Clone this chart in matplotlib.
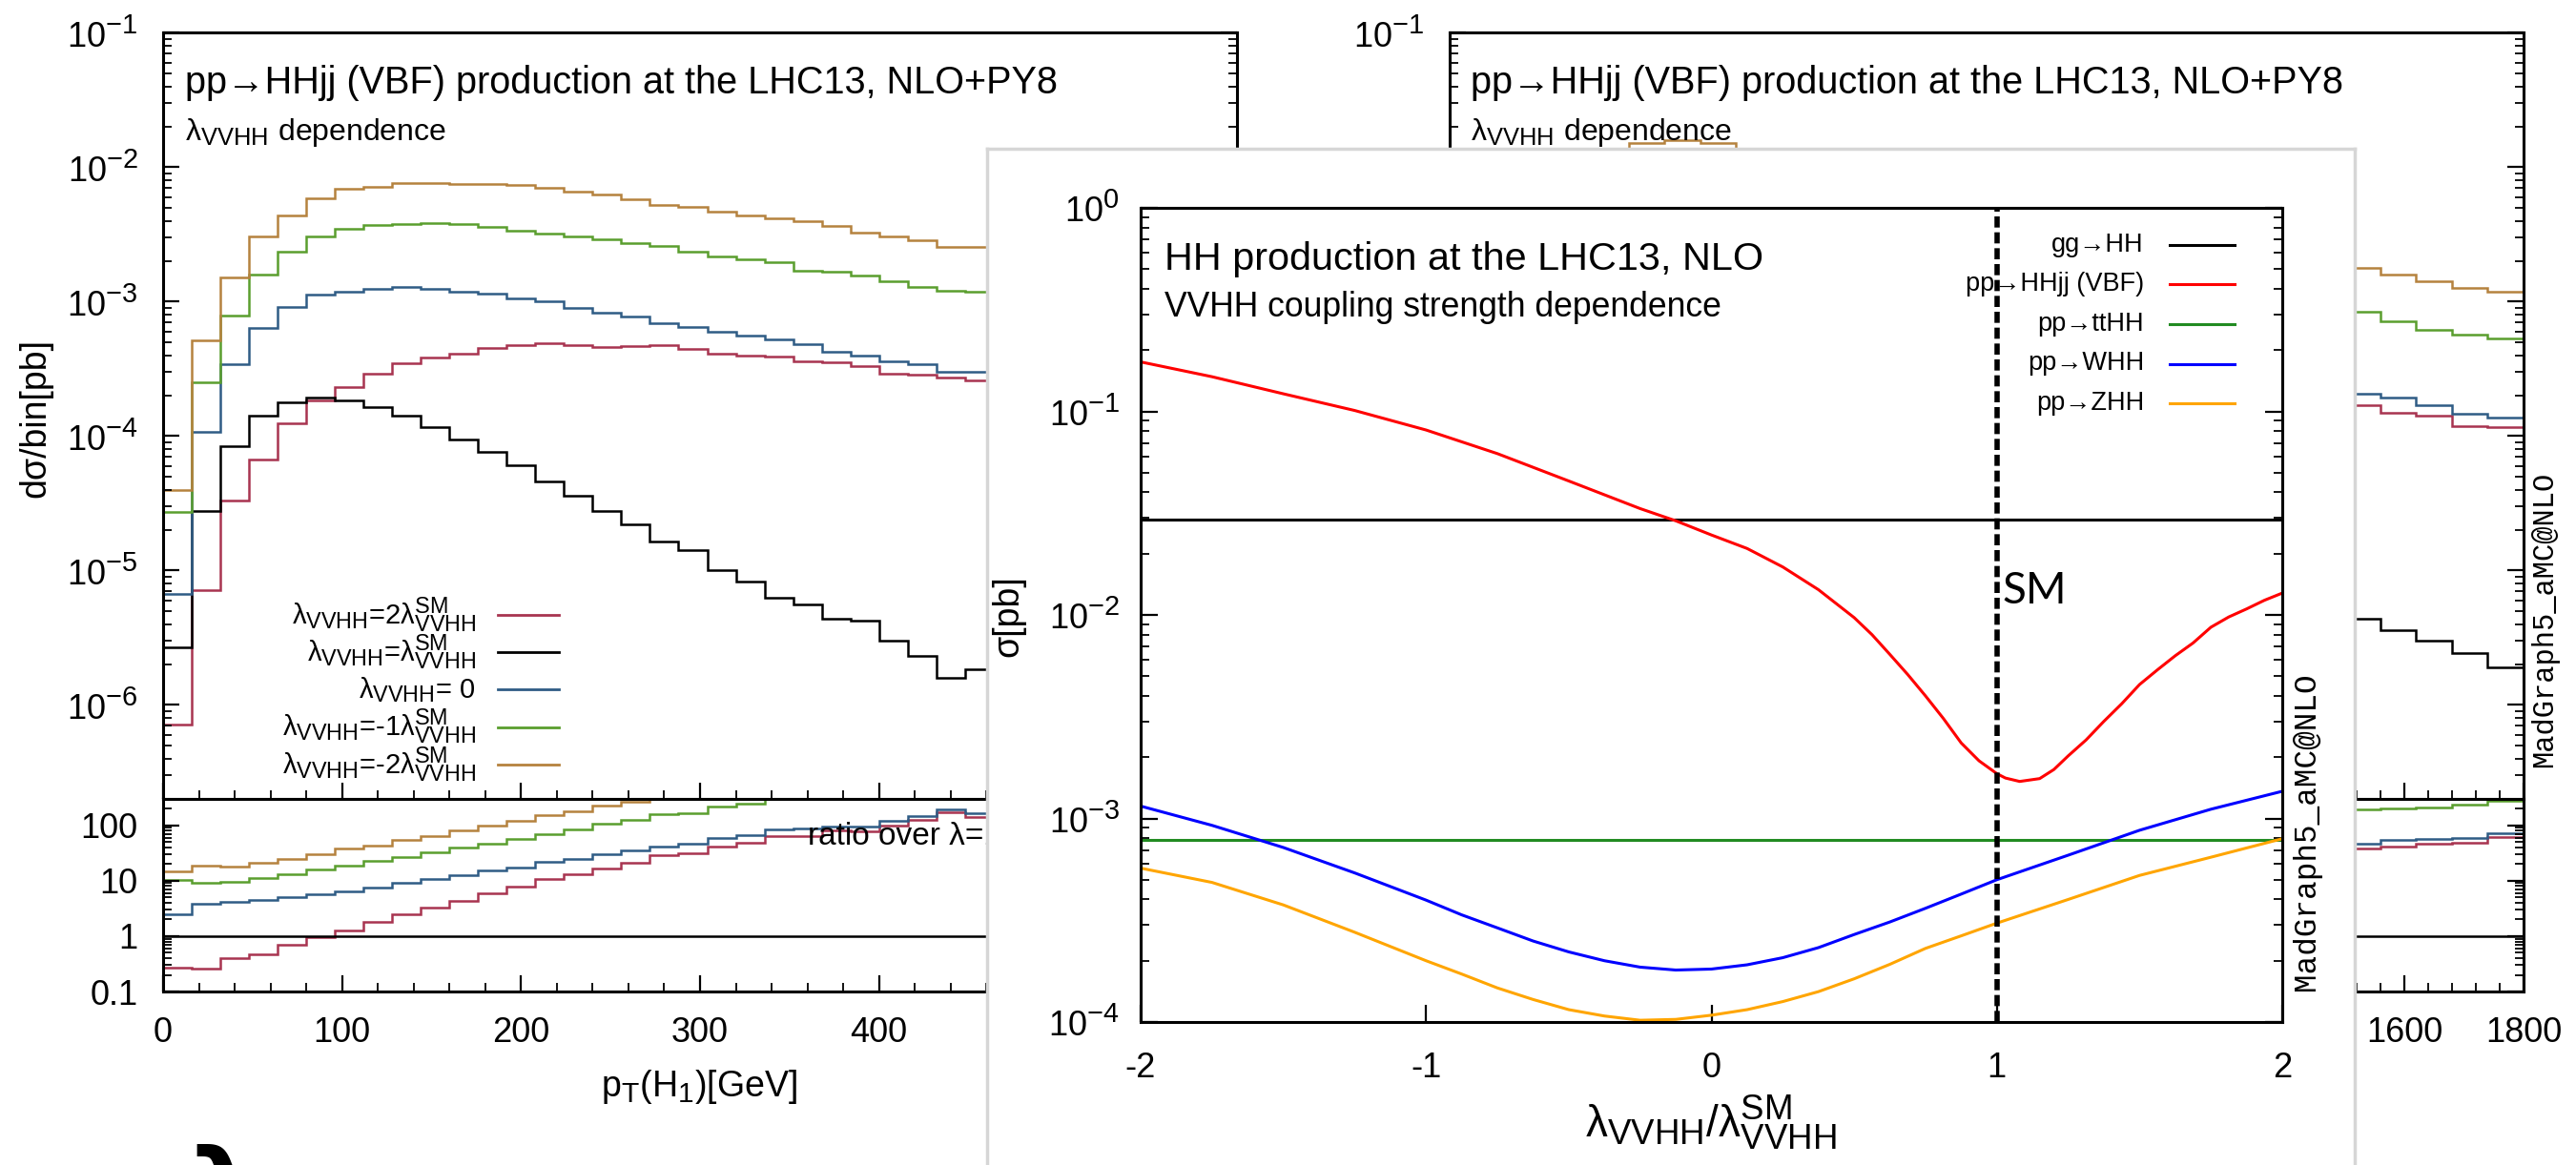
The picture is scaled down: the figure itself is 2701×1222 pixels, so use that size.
import numpy as np
import matplotlib
matplotlib.use("Agg")
import matplotlib.pyplot as plt
import matplotlib._mathtext as mathtext_internals
from matplotlib.ticker import MultipleLocator, LogLocator, NullFormatter

# gnuplot style sub/superscripts shrink less than the mathtext default
mathtext_internals.SHRINK_FACTOR = 0.8

plt.rcParams.update({
    "font.family": ["Liberation Sans", "DejaVu Sans"],
    "mathtext.fontset": "custom",
    "mathtext.rm": "Liberation Sans",
    "mathtext.it": "Liberation Sans:italic",
    "mathtext.bf": "Liberation Sans:bold",
    "mathtext.default": "regular",
    "axes.unicode_minus": False,
})

# ---------------- pT(H1) distributions, 16 GeV bins ----------------
pt_edges = np.arange(0, 465, 16)
pt_sm = [2.67e-6, 2.77e-5, 8.39e-5, 1.43e-4, 1.77e-4, 1.93e-4, 1.83e-4, 1.64e-4, 1.41e-4, 1.17e-4,
         9.40e-5, 7.64e-5, 6.03e-5, 4.58e-5, 3.61e-5, 2.77e-5, 2.19e-5, 1.64e-5, 1.42e-5, 1.00e-5,
         8.26e-6, 6.25e-6, 5.55e-6, 4.40e-6, 4.26e-6, 3.01e-6, 2.32e-6, 1.58e-6, 1.84e-6]
pt_p2 = [7.18e-7, 7.1e-6, 3.30e-5, 6.67e-5, 1.24e-4, 1.83e-4, 2.32e-4, 2.92e-4, 3.46e-4, 3.87e-4,
         4.12e-4, 4.53e-4, 4.73e-4, 4.91e-4, 4.73e-4, 4.61e-4, 4.66e-4, 4.73e-4, 4.47e-4, 4.12e-4,
         4.00e-4, 3.92e-4, 3.60e-4, 3.53e-4, 3.31e-4, 2.92e-4, 2.87e-4, 2.72e-4, 2.58e-4]
pt_zero = [6.74e-6, 1.08e-4, 3.42e-4, 6.38e-4, 9.10e-4, 1.12e-3, 1.19e-3, 1.25e-3, 1.28e-3, 1.24e-3,
           1.19e-3, 1.15e-3, 1.06e-3, 1.00e-3, 9.00e-4, 8.34e-4, 7.79e-4, 6.88e-4, 6.50e-4, 6.00e-4,
           5.56e-4, 5.22e-4, 4.82e-4, 4.26e-4, 4.00e-4, 3.60e-4, 3.42e-4, 3.02e-4, 3.02e-4]
pt_m1 = [2.73e-5, 2.50e-4, 7.94e-4, 1.60e-3, 2.34e-3, 3.08e-3, 3.48e-3, 3.71e-3, 3.78e-3, 3.82e-3,
         3.78e-3, 3.61e-3, 3.38e-3, 3.23e-3, 3.08e-3, 2.91e-3, 2.73e-3, 2.60e-3, 2.34e-3, 2.18e-3,
         2.06e-3, 1.96e-3, 1.71e-3, 1.66e-3, 1.56e-3, 1.42e-3, 1.28e-3, 1.21e-3, 1.18e-3]
pt_m2 = [3.97e-5, 5.19e-4, 1.51e-3, 3.04e-3, 4.36e-3, 5.85e-3, 6.92e-3, 7.18e-3, 7.60e-3, 7.60e-3,
         7.50e-3, 7.50e-3, 7.41e-3, 7.05e-3, 6.54e-3, 6.22e-3, 5.74e-3, 5.26e-3, 5.10e-3, 4.70e-3,
         4.41e-3, 4.20e-3, 3.97e-3, 3.66e-3, 3.27e-3, 3.08e-3, 2.85e-3, 2.55e-3, 2.55e-3]

# ---------------- second distribution, 60 GeV bins ----------------
tail_edges = np.arange(1500, 1801, 60)
tail_sm = [4.4e-6, 3.6e-6, 3.0e-6, 2.45e-6, 1.9e-6]
tail_p2 = [1.69e-4, 1.48e-4, 1.42e-4, 1.19e-4, 1.17e-4]
tail_zero = [2.07e-4, 1.94e-4, 1.71e-4, 1.46e-4, 1.38e-4]
tail_m1 = [8.4e-4, 7.2e-4, 6.2e-4, 5.7e-4, 5.36e-4]
tail_m2 = [1.77e-3, 1.58e-3, 1.41e-3, 1.26e-3, 1.18e-3]
peak_edges = np.arange(240, 541, 60)
peak_m2 = [1.2e-2, 1.52e-2, 1.59e-2, 1.52e-2, 1.2e-2]

# ---------------- total cross sections vs lambda_VVHH ----------------
sm_lambda = 1.0
lam_ends = [-2.0, 2.0]
sig_gghh = [0.0293, 0.0293]
sig_tthh = [7.88e-4, 7.88e-4]
lam_vbf = [-2.0, -1.75, -1.5, -1.25, -1.0, -0.75, -0.5, -0.25, -0.125, 0.0, 0.125, 0.25, 0.375,
           0.5, 0.5625, 0.625, 0.6875, 0.75, 0.8125, 0.875, 0.9375, 1.0, 1.03, 1.08, 1.15, 1.2,
           1.25, 1.3125, 1.375, 1.4375, 1.5, 1.5625, 1.625, 1.6875, 1.75, 1.8125, 1.875, 1.9375, 2.0]
sig_vbf = [0.175, 0.148, 0.122, 0.101, 0.081, 0.062, 0.0455, 0.0333, 0.0290, 0.0247, 0.0212, 0.0172,
           0.0133, 0.0097, 0.0080, 0.0064, 0.0051, 0.0040, 0.0031, 0.00235, 0.00192, 0.00166,
           0.00158, 0.00152, 0.00157, 0.00174, 0.00203, 0.00243, 0.0030, 0.00366, 0.00455, 0.00537,
           0.0063, 0.00728, 0.0087, 0.00977, 0.0107, 0.0118, 0.0128]
lam_vh = [-2.0, -1.75, -1.5, -1.25, -1.0, -0.875, -0.75, -0.625, -0.5, -0.375, -0.25, -0.125, 0.0,
          0.125, 0.25, 0.375, 0.5, 0.625, 0.75, 0.875, 1.0, 1.25, 1.5, 1.75, 2.0]
sig_whh = [1.15e-3, 9.25e-4, 7.2e-4, 5.4e-4, 3.97e-4, 3.36e-4, 2.9e-4, 2.5e-4, 2.21e-4, 2.0e-4,
           1.86e-4, 1.80e-4, 1.82e-4, 1.91e-4, 2.07e-4, 2.32e-4, 2.69e-4, 3.1e-4, 3.62e-4, 4.25e-4,
           5.0e-4, 6.6e-4, 8.75e-4, 1.11e-3, 1.36e-3]
sig_zhh = [5.7e-4, 4.85e-4, 3.76e-4, 2.76e-4, 2.0e-4, 1.72e-4, 1.47e-4, 1.29e-4, 1.15e-4, 1.07e-4,
           1.02e-4, 1.03e-4, 1.08e-4, 1.15e-4, 1.26e-4, 1.41e-4, 1.63e-4, 1.92e-4, 2.3e-4, 2.65e-4,
           3.06e-4, 4.0e-4, 5.25e-4, 6.45e-4, 7.95e-4]

hist_colors = {"p2": "#a83450", "sm": "black", "zero": "#2f5c85", "m1": "#5a9e2e", "m2": "#b5823e"}
legend_labels = [
    ("p2", r"$\lambda_{VVHH}$=2$\lambda^{SM}_{VVHH}$"),
    ("sm", r"$\lambda_{VVHH}$=$\lambda^{SM}_{VVHH}$"),
    ("zero", r"$\lambda_{VVHH}$= 0"),
    ("m1", r"$\lambda_{VVHH}$=-1$\lambda^{SM}_{VVHH}$"),
    ("m2", r"$\lambda_{VVHH}$=-2$\lambda^{SM}_{VVHH}$"),
]
proc_labels = ["gg→HH", "pp→HHjj (VBF)", "pp→ttHH", "pp→WHH", "pp→ZHH"]
proc_colors = ["black", "red", "#228b22", "blue", "orange"]

W, H = 2701, 1222
fig = plt.figure(figsize=(W / 100, H / 100), dpi=100)
tf = fig.transFigure


def fx(x):
    return x / W


def fy(y):
    return 1 - y / H


def rect(x0, y0, x1, y1):
    return [fx(x0), fy(y1), (x1 - x0) / W, (y1 - y0) / H]


def style_axis(ax, lw=2.2, size=26, pad=19):
    for s in ax.spines.values():
        s.set_linewidth(lw)
    ax.tick_params(which="both", direction="in", top=False, right=True, labelsize=size, pad=pad)
    ax.tick_params(which="major", length=12, width=1.6)
    ax.tick_params(which="minor", length=6.5, width=1.3)


def log_ticks(ax):
    ax.yaxis.set_major_locator(LogLocator(base=10, numticks=50))
    ax.yaxis.set_minor_locator(LogLocator(base=10, subs=np.arange(2, 10), numticks=50))
    ax.yaxis.set_minor_formatter(NullFormatter())


def dist_panel(x0, x1, xmax, major, minor, title_x):
    ax = fig.add_axes(rect(x0, 34.4, x1, 838), zorder=1)
    ar = fig.add_axes(rect(x0, 838, x1, 1040), zorder=1)
    for a in (ax, ar):
        a.set_xlim(0, xmax)
        a.set_yscale("log")
        a.xaxis.set_major_locator(MultipleLocator(major))
        a.xaxis.set_minor_locator(MultipleLocator(minor))
        style_axis(a)
        log_ticks(a)
    ax.set_ylim(2e-7, 0.1)
    ax.tick_params(labelbottom=False)
    ar.set_ylim(0.1, 300)
    ar.set_yticks([0.1, 1, 10, 100], labels=["0.1", "1", "10", "100"])
    ar.yaxis.set_minor_formatter(NullFormatter())
    ax.text(fx(title_x), fy(98), "pp→HHjj (VBF) production at the LHC13, NLO+PY8",
            transform=tf, fontsize=28.5, va="baseline")
    ax.text(fx(title_x), fy(147), r"$\lambda_{VVHH}$ dependence",
            transform=tf, fontsize=23, va="baseline")
    return ax, ar


def draw_hists(ax, ar, edges, curves, sm):
    for key, vals in curves.items():
        ax.stairs(vals, edges, color=hist_colors[key], lw=1.8, baseline=None)
        ar.stairs(np.array(vals) / np.array(sm), edges, color=hist_colors[key], lw=1.8, baseline=None)


# ---------------- left panel: pT(H1) ----------------
axl, arl = dist_panel(171, 1297, 600, 100, 20, 194)
draw_hists(axl, arl, pt_edges,
           {"p2": pt_p2, "sm": pt_sm, "zero": pt_zero, "m1": pt_m1, "m2": pt_m2}, pt_sm)
axl.text(fx(37), fy(438), "dσ/bin[pb]", transform=tf, fontsize=27, rotation=90,
         ha="center", va="center")
axl.text(fx(733), fy(1140), r"p$_{T}$(H$_{1}$)[GeV]", transform=tf, fontsize=27,
         ha="center", va="center")
arl.text(fx(847), fy(878), "ratio over λ=1", transform=tf, fontsize=24, va="center")
for i, (key, label) in enumerate(legend_labels):
    y = 645 + i * 39.2
    axl.text(fx(499), fy(y), label, transform=tf, fontsize=21, ha="right", va="center")
    axl.plot([fx(522), fx(586)], [fy(y), fy(y)], transform=tf, color=hist_colors[key], lw=2)

# ---------------- right panel (mostly covered) ----------------
axr, arr = dist_panel(1520, 2646, 1800, 200, 40, 1542)
draw_hists(axr, arr, tail_edges,
           {"p2": tail_p2, "sm": tail_sm, "zero": tail_zero, "m1": tail_m1, "m2": tail_m2}, tail_sm)
axr.stairs(peak_m2, peak_edges, color=hist_colors["m2"], lw=1.8, baseline=None)
axr.text(fx(2668), fy(650), "MadGraph5_aMC@NLO", transform=tf, fontsize=22,
         family="Liberation Mono", rotation=90, ha="center", va="center")

# ---------------- overlaid summary plot ----------------
box = fig.add_axes(rect(1035, 156, 2469, 1240), zorder=5)
box.set_xticks([])
box.set_yticks([])
for s in box.spines.values():
    s.set_color("#d6d6d6")
    s.set_linewidth(2.5)

ax_in = fig.add_axes(rect(1196, 218, 2393, 1072), zorder=6)
ax_in.set_yscale("log")
ax_in.set_xlim(-2, 2)
ax_in.set_ylim(1e-4, 1)
style_axis(ax_in, lw=2.2, size=26, pad=16)
log_ticks(ax_in)
ax_in.xaxis.set_major_locator(MultipleLocator(1))
ax_in.tick_params(axis="x", pad=22)
ax_in.tick_params(which="major", length=13)

series = [(lam_ends, sig_gghh), (lam_vbf, sig_vbf), (lam_ends, sig_tthh),
          (lam_vh, sig_whh), (lam_vh, sig_zhh)]
for (lx, sy), c in zip(series, proc_colors):
    ax_in.plot(lx, sy, color=c, lw=2.2)
ax_in.axvline(sm_lambda, color="black", lw=4, ls=(0, (2.1, 0.9)))
ax_in.text(fx(2100), fy(633), "SM", transform=tf, fontsize=33, family="Lato", va="baseline")

ax_in.text(fx(1221), fy(283), "HH production at the LHC13, NLO", transform=tf,
           fontsize=29.8, va="baseline")
ax_in.text(fx(1221), fy(332), "VVHH coupling strength dependence", transform=tf,
           fontsize=25.6, va="baseline")
for i, (label, c) in enumerate(zip(proc_labels, proc_colors)):
    y = 257 + i * 41.5
    ax_in.text(fx(2248), fy(y), label, transform=tf, fontsize=19.5, ha="right", va="center")
    ax_in.plot([fx(2275), fx(2343)], [fy(y), fy(y)], transform=tf, color=c, lw=2.2)

ax_in.text(fx(1057), fy(646), "σ[pb]", transform=tf, fontsize=27, rotation=90,
           ha="center", va="center")
ax_in.text(fx(1794), fy(1177), r"$\lambda_{VVHH}/\lambda^{SM}_{VVHH}$", transform=tf,
           fontsize=33, ha="center", va="center")
ax_in.text(fx(2418), fy(872), "MadGraph5_aMC@NLO", transform=tf, fontsize=23.5,
           family="Liberation Mono", rotation=90, ha="center", va="center")

# slide text below the left panel, cut by the page edge
fig.text(fx(200), fy(1200), "λ", fontsize=80, fontweight="bold", family="DejaVu Sans",
         va="top", ha="left", zorder=0)

fig.savefig("out.png", dpi=100)
